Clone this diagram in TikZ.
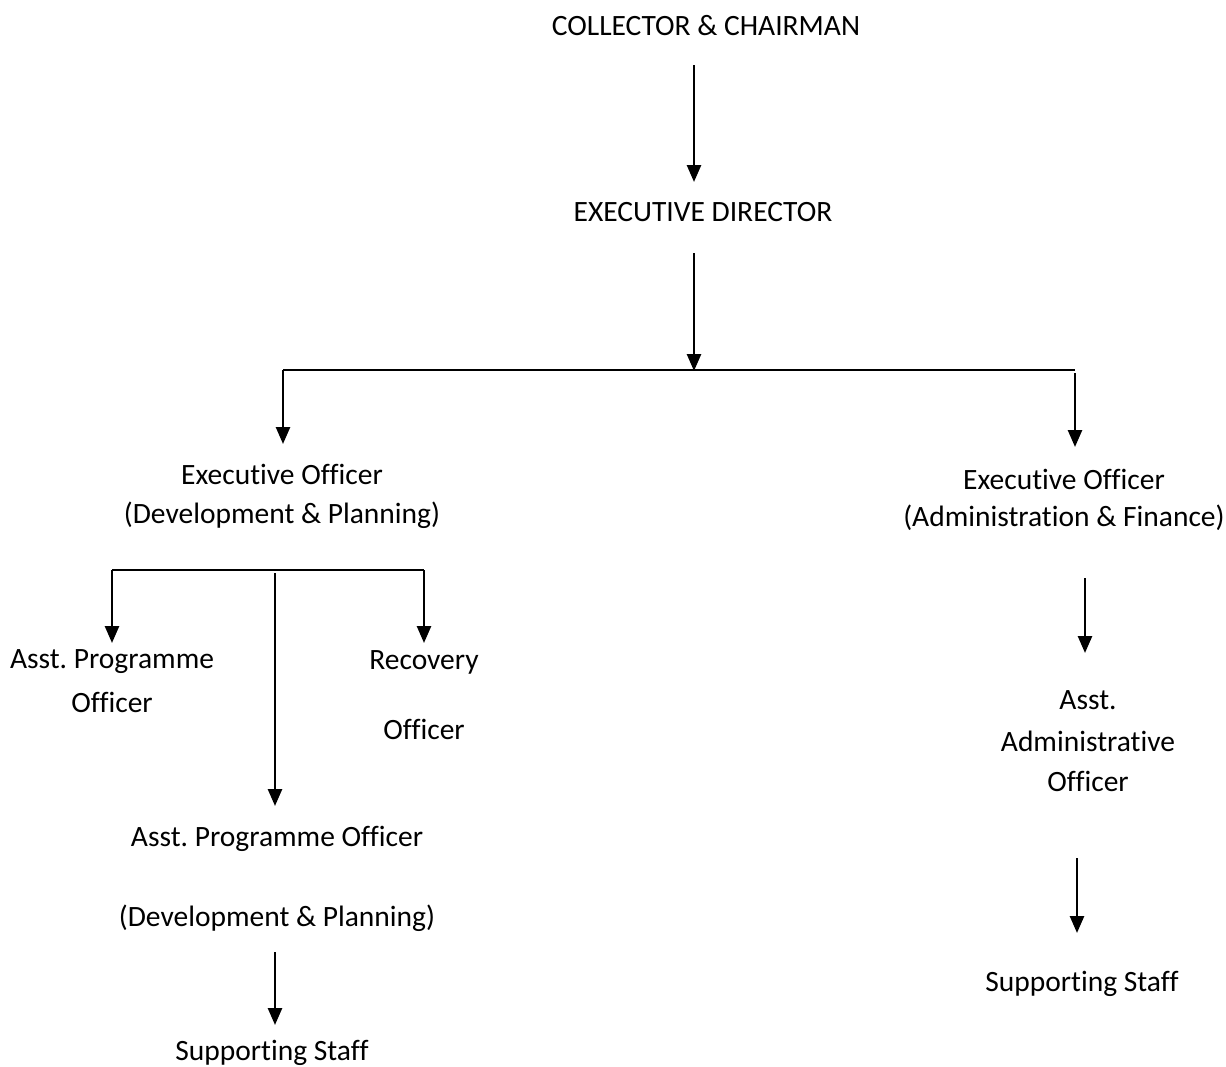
\documentclass[tikz,border=0pt]{standalone}
\usepackage{fontspec}
\setmainfont[Ligatures={NoCommon}]{Carlito}
\usetikzlibrary{arrows.meta}
\begin{document}
\begin{tikzpicture}[x=1pt,y=-1pt,
  lbl/.style={inner sep=0pt,font=\fontsize{29.5}{34}\selectfont},
  arr/.style={line width=2.6pt,-{Triangle[width=14pt,length=17pt]}},
  bar/.style={line width=2.2pt}]
\useasboundingbox (0,0) rectangle (1226,1066);
% text nodes
\node[lbl] (cc) at (706,26) {COLLECTOR \& CHAIRMAN};
\node[lbl] (ed) at (703,212) {EXECUTIVE DIRECTOR};
\node[lbl] (eol1) at (282,474) {Executive Officer};
\node[lbl] (eol2) at (282,515) {(Development \& Planning)};
\node[lbl] (eor1) at (1064,479) {Executive Officer};
\node[lbl] (eor2) at (1064,518) {(Administration \& Finance)};
\node[lbl] (apo1) at (112,662) {Asst.\ Programme};
\node[lbl] (apo2) at (112,702) {Officer};
\node[lbl] (ro1) at (424,662) {Recovery};
\node[lbl] (ro2) at (424,729) {Officer};
\node[lbl] (apd1) at (277,839) {Asst.\ Programme Officer};
\node[lbl] (apd2) at (277,918) {(Development \& Planning)};
\node[lbl] (ssl) at (272,1053) {Supporting Staff};
\node[lbl] (aao1) at (1088,700) {Asst.};
\node[lbl] (aao2) at (1088,741) {Administrative};
\node[lbl] (aao3) at (1088,781) {Officer};
\node[lbl] (ssr) at (1082,984) {Supporting Staff};
% connector points
\coordinate (a1s) at (694,65);   \coordinate (a1e) at (694,182);
\coordinate (a2s) at (694,253);  \coordinate (a2e) at (694,371);
\coordinate (hl) at (283,370);   \coordinate (hr) at (1075,370);
\coordinate (lle) at (283,444);
\coordinate (rrs) at (1075,373); \coordinate (rre) at (1075,447);
\coordinate (sl) at (112,570);   \coordinate (sr) at (424,570);
\coordinate (sle) at (112,643);  \coordinate (sre) at (424,643);
\coordinate (ms) at (275,573);   \coordinate (me) at (275,806);
\coordinate (bs) at (275,952);   \coordinate (be) at (275,1025);
\coordinate (rs1) at (1085,578); \coordinate (re1) at (1085,653);
\coordinate (rs2) at (1077,858); \coordinate (re2) at (1077,933);
% connectors
\draw[arr] (a1s) -- (a1e);
\draw[arr] (a2s) -- (a2e);
\draw[bar] (hl) -- (hr);
\draw[arr] (hl) -- (lle);
\draw[arr] (rrs) -- (rre);
\draw[bar] (sl) -- (sr);
\draw[arr] (sl) -- (sle);
\draw[arr] (sr) -- (sre);
\draw[arr] (ms) -- (me);
\draw[arr] (bs) -- (be);
\draw[arr] (rs1) -- (re1);
\draw[arr] (rs2) -- (re2);
\end{tikzpicture}
\end{document}
